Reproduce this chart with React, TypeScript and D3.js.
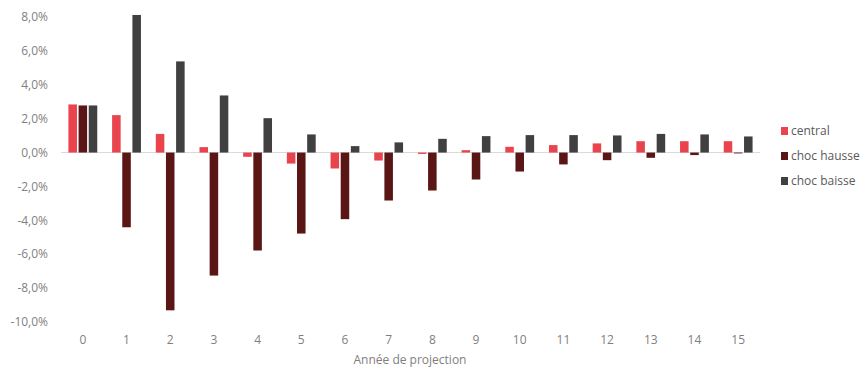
import React from "react";
import * as d3 from "d3";

const categories = ["0","1","2","3","4","5","6","7","8","9","10","11","12","13","14","15"];
const seriesNames = ["central", "choc hausse", "choc baisse"];
const central = [2.84, 2.21, 1.1, 0.32, -0.25, -0.65, -0.94, -0.47, -0.08, 0.14, 0.34, 0.44, 0.54, 0.67, 0.67, 0.67];
const chocHausse = [2.78, -4.41, -9.31, -7.26, -5.78, -4.78, -3.93, -2.83, -2.24, -1.59, -1.12, -0.7, -0.45, -0.31, -0.15, -0.05];
const chocBaisse = [2.78, 8.12, 5.38, 3.37, 2.03, 1.07, 0.38, 0.6, 0.81, 0.97, 1.03, 1.03, 1.01, 1.1, 1.07, 0.95];
const yTicks = [8, 6, 4, 2, 0, -2, -4, -6, -8, -10];
const colors = ["#E9434D", "#5A1615", "#404040"];
const xTitle = "Année de projection";

const W = 860, H = 367;
const FONT = "'Open Sans', 'Noto Sans', sans-serif";

export default function App() {
  const seriesValues = [central, chocHausse, chocBaisse];
  const x0 = d3.scaleBand<string>().domain(categories).range([61, 760]).paddingInner(0.34).paddingOuter(0.17);
  const x1 = d3.scaleBand<string>().domain(seriesNames).range([0, x0.bandwidth()]).paddingInner(0.16);
  const y = d3.scaleLinear().domain([-10, 8]).range([322, 17]);
  const fmt = (v: number) => v.toFixed(1).replace(".", ",") + "%";

  return (
    <svg width={W} height={H} style={{ position: "absolute", left: 0, top: 0, background: "#fff" }}>
      {yTicks.map((t) => (
        <text key={t} x={48} y={y(t)} dy="0.35em" textAnchor="end" fontSize={12} fill="#7F7F7F" fontFamily={FONT}>
          {fmt(t)}
        </text>
      ))}
      <line x1={61} x2={760} y1={y(0)} y2={y(0)} stroke="#D9D9D9" strokeWidth={1} />
      {seriesValues.map((vals, si) =>
        vals.map((v, ci) => {
          const xx = (x0(categories[ci]) as number) + (x1(seriesNames[si]) as number);
          const y0 = y(0), yv = y(v);
          return (
            <rect key={si + "-" + ci} x={xx} y={Math.min(y0, yv)} width={x1.bandwidth()} height={Math.max(0.8, Math.abs(yv - y0))} fill={colors[si]} />
          );
        })
      )}
      {categories.map((c) => (
        <text key={c} x={(x0(c) as number) + x0.bandwidth() / 2} y={340} dy="0.35em" textAnchor="middle" fontSize={12} fill="#7F7F7F" fontFamily={FONT}>
          {c}
        </text>
      ))}
      <text x={410} y={360} dy="0.35em" textAnchor="middle" fontSize={12} fill="#7F7F7F" fontFamily={FONT}>
        {xTitle}
      </text>
      {seriesNames.map((s, i) => (
        <g key={s} transform={`translate(781, ${131 + i * 25})`}>
          <rect x={0} y={-4} width={7} height={8} fill={colors[i]} />
          <text x={10} y={0} dy="0.35em" fontSize={12} fill="#595959" fontFamily={FONT}>
            {s}
          </text>
        </g>
      ))}
    </svg>
  );
}
